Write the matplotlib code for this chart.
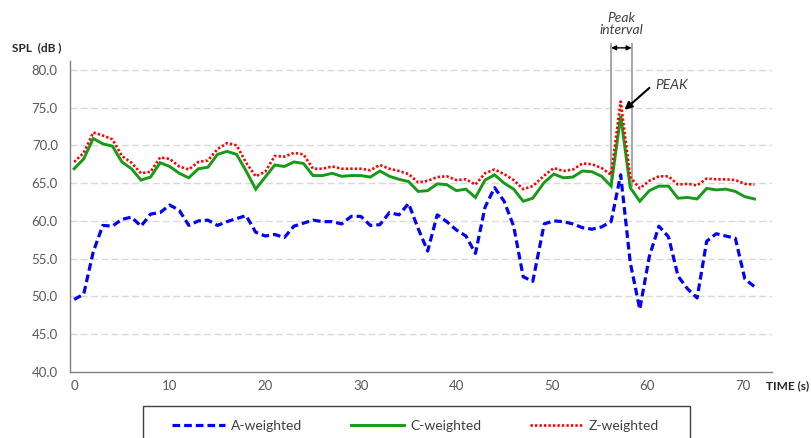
import matplotlib
matplotlib.use("Agg")
import matplotlib.pyplot as plt
from matplotlib.patches import Rectangle

plt.rcParams['font.family'] = ['Lato', 'DejaVu Sans']

# Measurement times (s)
time_s = [0, 1, 2, 3, 4, 5, 6, 7, 8, 9, 10, 11, 12, 13, 14, 15, 16, 17, 18, 19,
          20, 21, 22, 23, 24, 25, 26, 27, 28, 29, 30, 31, 32, 33, 34, 35, 36, 37, 38, 39,
          40, 41, 42, 43, 44, 45, 46, 47, 48,
          49.2, 50.2, 51.2, 52.2, 53.2, 54.2, 55.2, 56.2, 57.2, 58.2, 59.2, 60.2,
          61.2, 62.2, 63.2, 64.2, 65.2, 66.2, 67.2, 68.2, 69.2, 70.2, 71.2]

# Sound pressure levels, dB
spl_a = [49.6, 50.3, 55.9, 59.4, 59.3, 60.2, 60.5, 59.3, 60.9, 61.1,
         62.1, 61.4, 59.4, 60.0, 60.1, 59.4, 59.9, 60.3, 60.7, 58.5,
         58.0, 58.2, 57.8, 59.3, 59.7, 60.1, 59.9, 59.9, 59.6, 60.6,
         60.6, 59.4, 59.5, 61.1, 60.8, 62.3, 59.0, 56.0, 60.8, 59.9,
         58.8, 58.0, 55.7, 61.8, 64.4, 62.6, 59.3, 52.6, 52.0,
         59.6, 60.0, 59.9, 59.6, 59.1, 58.9, 59.2, 59.9, 66.1, 54.5, 48.3, 55.3,
         59.3, 57.9, 52.7, 51.0, 49.8, 57.3, 58.3, 58.0, 57.7, 52.3, 51.3]

spl_c = [66.9, 68.2, 70.9, 70.2, 69.9, 67.8, 66.9, 65.4, 65.8, 67.7,
         67.2, 66.3, 65.7, 66.9, 67.1, 68.8, 69.2, 68.8, 66.6, 64.2,
         65.8, 67.4, 67.2, 67.8, 67.6, 66.0, 66.0, 66.3, 65.9, 66.0,
         66.0, 65.8, 66.6, 65.9, 65.5, 65.2, 63.9, 64.0, 64.9, 64.8,
         64.0, 64.2, 63.1, 65.4, 66.1, 65.0, 64.2, 62.6, 63.0,
         65.1, 66.2, 65.7, 65.8, 66.6, 66.5, 65.9, 64.6, 73.9, 64.4, 62.6, 64.0,
         64.6, 64.6, 63.0, 63.1, 62.9, 64.3, 64.1, 64.2, 63.9, 63.2, 62.9]

spl_z = [67.8, 69.0, 71.7, 71.3, 70.8, 68.6, 67.7, 66.3, 66.5, 68.4,
         68.2, 67.2, 66.8, 67.8, 68.0, 69.5, 70.3, 70.0, 67.7, 65.9,
         66.5, 68.6, 68.5, 69.0, 68.8, 66.9, 66.9, 67.2, 66.9, 66.9,
         66.9, 66.7, 67.4, 66.9, 66.6, 66.2, 65.1, 65.3, 65.8, 65.9,
         65.4, 65.5, 64.8, 66.3, 66.8, 66.2, 65.4, 64.2, 64.6,
         66.0, 67.0, 66.6, 66.8, 67.6, 67.5, 67.0, 66.1, 75.8, 65.8, 64.3, 65.3,
         65.9, 65.9, 64.8, 64.9, 64.7, 65.6, 65.5, 65.5, 65.4, 64.9, 64.8]

series_labels = ["A-weighted", "C-weighted", "Z-weighted"]
y_ticks = [40, 45, 50, 55, 60, 65, 70, 75, 80]
x_ticks = [0, 10, 20, 30, 40, 50, 60, 70]

# Peak interval bounds (s) and level where the markers stop (dB)
peak_start, peak_end, peak_base = 56.2, 58.35, 64.6

fig = plt.figure(figsize=(8.12, 4.38), dpi=100)
ax = fig.add_axes([0.0866, 0.1507, 0.8637, 0.7107])

grid_col = '#d9d9d9'
for yv in y_ticks[1:]:
    ax.axhline(yv, color=grid_col, lw=1.0, linestyle=(0, (5, 2.4)), zorder=0)

la, = ax.plot(time_s, spl_a, color='#0000ff', lw=2.3,
              linestyle=(0, (2.4, 1.25)), dash_capstyle='butt', zorder=3)
lc, = ax.plot(time_s, spl_c, color='#169b16', lw=2.1, solid_joinstyle='miter', zorder=3)
lz, = ax.plot(time_s, spl_z, color='#ff0000', lw=1.9,
              linestyle=(0, (0.9, 0.8)), dash_capstyle='butt', zorder=4)

ax.set_xlim(-0.4, 73.0)
ax.set_ylim(40, 81.2)
ax.set_yticks(y_ticks)
ax.set_yticklabels([f"{v:.1f}" for v in y_ticks])
ax.set_xticks(x_ticks)
ax.tick_params(axis='both', length=0, labelsize=9.5, labelcolor='#595959')
ax.tick_params(axis='y', pad=9)
ax.tick_params(axis='x', pad=6)

for side in ('top', 'right'):
    ax.spines[side].set_visible(False)
for side in ('left', 'bottom'):
    ax.spines[side].set_color('#808080')
    ax.spines[side].set_linewidth(1.0)

# Axis titles
fig.text(0.0148, 0.890, "SPL  (dB )", fontsize=8.5, fontweight='bold',
         color='#262626', ha='left', va='center')
fig.text(0.997, 0.119, "TIME (s)", fontsize=8.5, fontweight='bold',
         color='#262626', ha='right', va='center')

# Peak interval markers
for xv in (peak_start, peak_end):
    ax.plot([xv, xv], [peak_base, 83.4], color='#a6a6a6', lw=1.4,
            clip_on=False, zorder=2)
ax.annotate("", xy=(peak_start, 82.9), xytext=(peak_end, 82.9),
            arrowprops=dict(arrowstyle='<|-|>', color='black', lw=1.0,
                            mutation_scale=7, shrinkA=0, shrinkB=0),
            annotation_clip=False)
ax.text((peak_start + peak_end) / 2, 86.0, "Peak\ninterval", fontsize=10,
        style='italic', color='#404040', ha='center', va='center',
        linespacing=1.0, clip_on=False)

# Peak label with arrow
ax.annotate("", xy=(57.6, 74.7), xytext=(60.2, 77.6),
            arrowprops=dict(arrowstyle='-|>', color='black', lw=1.5,
                            mutation_scale=11, shrinkA=0, shrinkB=0))
ax.text(60.8, 78.0, "PEAK", fontsize=10, style='italic', color='#404040',
        ha='left', va='center')

# Legend
fig.patches.append(Rectangle((143 / 812, -0.05), (690 - 143) / 812,
                             0.05 + 1 - 406 / 438, transform=fig.transFigure,
                             fill=False, edgecolor='#404040', lw=1.0))
fig.legend([la, lc, lz], series_labels, loc='center left',
           bbox_to_anchor=(172 / 812, 1 - 426 / 438), ncol=3, frameon=False,
           fontsize=10, handlelength=3.8, handletextpad=0.45,
           columnspacing=3.5, borderpad=0, borderaxespad=0,
           labelcolor='#404040')

fig.savefig("out.png", dpi=100)
